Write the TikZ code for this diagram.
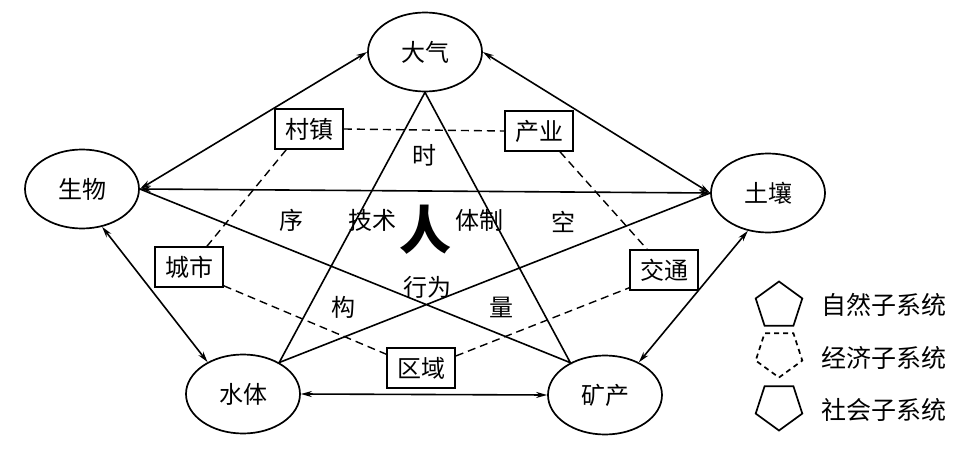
\documentclass[tikz,border=0pt]{standalone}
\usepackage{fontspec}
\setmainfont{Noto Sans CJK SC}
\usetikzlibrary{arrows.meta,shapes.geometric}
\tikzset{
  ziran/.style={draw, ellipse, line width=1.7pt, minimum width=114pt, minimum height=79pt, inner sep=0pt},
  jingji/.style={draw, line width=1.6pt, minimum width=68pt, minimum height=40pt, inner sep=0pt},
  link/.style={line width=1.6pt},
  dlink/.style={line width=1.4pt, dash pattern=on 8pt off 5pt},
  both/.style={link, {Stealth[length=11pt,width=6pt]}-{Stealth[length=11pt,width=6pt]}},
  penta/.style={draw, regular polygon, regular polygon sides=5, minimum size=49pt, inner sep=0pt, line width=1.7pt},
  word/.style={inner sep=0pt},
}
\begin{document}
\begin{tikzpicture}[x=1pt, y=-1pt, font=\fontsize{24}{28}\selectfont]
\useasboundingbox (0,0) rectangle (970,452);
% natural subsystem
\node[ziran] (dq) at (425,52) {大气};
\node[ziran] (sw) at (82,189) {生物};
\node[ziran] (tr) at (768,193) {土壤};
\node[ziran] (st) at (243,394) {水体};
\node[ziran] (kc) at (605,395) {矿产};
\draw[both] (sw.east) -- (dq.west);
\draw[both] (dq.east) -- (tr.west);
\draw[both] (sw.east) -- (tr.west);
\draw[both] (sw.-62) -- (st.138);
\draw[both] (tr.-118) -- (kc.44);
\draw[both] (st.east) -- (kc.west);
% social subsystem
\draw[link] (dq.south) -- (st.41) -- (tr.west)
            (dq.south) -- (kc.137) -- (sw.east);
% economic subsystem
\node[jingji] (cz) at (309,129) {村镇};
\node[jingji] (cy) at (539,131) {产业};
\node[jingji] (cs) at (189,267) {城市};
\node[jingji] (jt) at (664,270) {交通};
\node[jingji] (qy) at (421,368) {区域};
\draw[dlink] (cz.east) -- (cy.west);
\draw[dlink] ([xshift=12pt]cz.south west) -- ([xshift=18pt]cs.north);
\draw[dlink] ([yshift=2pt]cs.south east) -- ([yshift=-7pt]qy.north west);
\draw[dlink] ([yshift=12pt]qy.east) -- ([yshift=3pt]jt.south west);
\draw[dlink] ([xshift=21pt]cy.south) -- ([xshift=-17pt]jt.north);
% labels
\node[word] (shi) at (424,155) {时};
\node[word] (xu) at (291,220) {序};
\node[word] (js) at (372,220) {技术};
\node[word] (ren) at (425,230) {\fontsize{52}{54}\selectfont\bfseries 人};
\node[word] (tz) at (479,220) {体制};
\node[word] (kong) at (563,222) {空};
\node[word] (xw) at (427,287) {行为};
\node[word] (gou) at (343,307) {构};
\node[word] (liang) at (501,307) {量};
% legend
\node[penta] (lg1) at (779,306) {};
\node[penta, dash pattern=on 5pt off 4pt, shape border rotate=180] (lg2) at (779,353) {};
\node[penta, shape border rotate=180] (lg3) at (779,406) {};
\node[anchor=west, font=\fontsize{25}{28}\selectfont] (t1) at (818,305) {自然子系统};
\node[anchor=west, font=\fontsize{25}{28}\selectfont] (t2) at (818,358) {经济子系统};
\node[anchor=west, font=\fontsize{25}{28}\selectfont] (t3) at (818,410) {社会子系统};
\end{tikzpicture}
\end{document}
